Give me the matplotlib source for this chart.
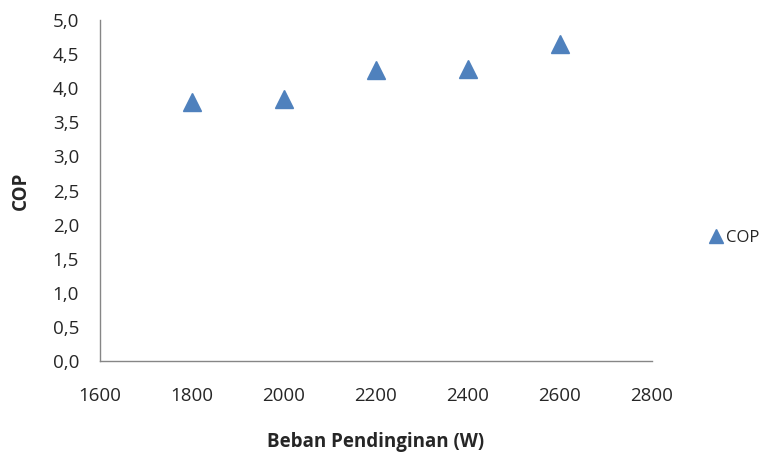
import matplotlib
matplotlib.use("Agg")
import matplotlib.pyplot as plt
from matplotlib.lines import Line2D

plt.rcParams['font.family'] = ['Open Sans', 'DejaVu Sans']

# Cooling load (W) vs coefficient of performance
beban = [1800, 2000, 2200, 2400, 2600]
cop = [3.80, 3.84, 4.27, 4.28, 4.65]

x_ticks = [1600, 1800, 2000, 2200, 2400, 2600, 2800]
y_ticks = [0.0, 0.5, 1.0, 1.5, 2.0, 2.5, 3.0, 3.5, 4.0, 4.5, 5.0]
y_tick_labels = ["0,0", "0,5", "1,0", "1,5", "2,0", "2,5", "3,0", "3,5", "4,0", "4,5", "5,0"]

series_name = "COP"
x_title = "Beban Pendinginan (W)"
y_title = "COP"

blue = "#4F81BD"
spine_gray = "#868686"
text_color = "#262626"

fig = plt.figure(figsize=(7.65, 4.54), dpi=100)
ax = fig.add_axes([100 / 765, 1 - 361 / 454, 552 / 765, 341 / 454])

ax.plot(beban, cop, linestyle="none", marker="^", markersize=12.5,
        color=blue, markeredgecolor=blue, label=series_name)

ax.set_xlim(1600, 2800)
ax.set_ylim(0, 5)
ax.set_xticks(x_ticks)
ax.set_xticklabels([str(v) for v in x_ticks])
ax.set_yticks(y_ticks)
ax.set_yticklabels(y_tick_labels)

for side in ("top", "right"):
    ax.spines[side].set_visible(False)
for side in ("left", "bottom"):
    ax.spines[side].set_color(spine_gray)
    ax.spines[side].set_linewidth(1.0)

ax.tick_params(axis="x", length=0, pad=19, labelsize=13.5, colors=text_color)
ax.tick_params(axis="y", length=0, pad=15, labelsize=13.5, colors=text_color)

ax.set_xlabel(x_title, fontsize=13.5, fontweight="bold", color=text_color, va="center")
ax.set_ylabel(y_title, fontsize=13.5, fontweight="bold", color=text_color, va="center")
ax.xaxis.set_label_coords(0.5, (361 - 442) / 341)
ax.yaxis.set_label_coords((21 - 100) / 552, 0.5)

handle = Line2D([], [], linestyle="none", marker="^", markersize=9.5,
                color=blue, markeredgecolor=blue)
fig.legend([handle], [series_name], loc="center left",
           bbox_to_anchor=(703 / 765, 1 - 238 / 454), frameon=False,
           fontsize=12, handlelength=0.8, handletextpad=0.2,
           borderaxespad=0.0, labelcolor=text_color)

fig.savefig("out.png", dpi=100, facecolor="white")
